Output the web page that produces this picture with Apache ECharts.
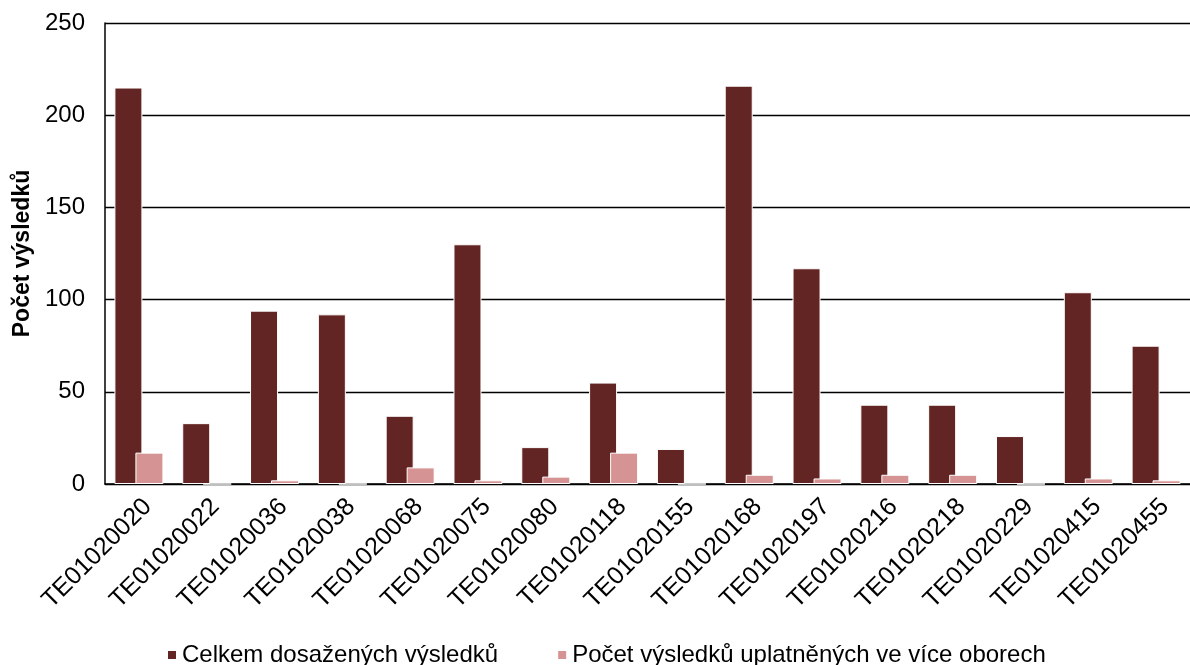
<!DOCTYPE html>
<html>
<head>
<meta charset="utf-8">
<script src="https://cdn.jsdelivr.net/npm/echarts@6/dist/echarts.min.js"></script>
<style>
  html, body { margin: 0; padding: 0; background: #fff; }
  #chart { width: 1190px; height: 665px; }
</style>
</head>
<body>
<div id="chart"></div>
<script>
// Projects (categories on the x axis)
const projects = [
  'TE01020020', 'TE01020022', 'TE01020036', 'TE01020038', 'TE01020068',
  'TE01020075', 'TE01020080', 'TE01020118', 'TE01020155', 'TE01020168',
  'TE01020197', 'TE01020216', 'TE01020218', 'TE01020229', 'TE01020415',
  'TE01020455'
];

// Total results achieved per project
const totalResults = [215, 33, 94, 92, 37, 130, 20, 55, 19, 216, 117, 43, 43, 26, 104, 75];

// Results applied in more than one field
const multiFieldResults = [17, 0, 2, 0, 9, 2, 4, 17, 0, 5, 3, 5, 5, 0, 3, 2];

const seriesNames = ['Celkem dosažených výsledků', 'Počet výsledků uplatněných ve více oborech'];
const yAxisTitle = 'Počet výsledků';

const FONT = 'Liberation Sans, Arial, sans-serif';

const chart = echarts.init(document.getElementById('chart'), null, { renderer: 'canvas' });

chart.setOption({
  animation: false,
  backgroundColor: '#ffffff',
  textStyle: { fontFamily: FONT },
  grid: { left: 105, right: -11, top: 23, bottom: 181, containLabel: false },
  legend: {
    left: 161,
    top: 638,
    itemWidth: 10,
    itemHeight: 10,
    itemGap: 58,
    icon: 'rect',
    textStyle: { fontFamily: FONT, fontSize: 24, color: '#000' },
    data: seriesNames
  },
  xAxis: {
    type: 'category',
    data: projects,
    boundaryGap: true,
    axisLine: { show: true, lineStyle: { color: '#000', width: 1.5 } },
    axisTick: { show: false },
    axisLabel: {
      interval: 0,
      rotate: 45,
      margin: 10,
      verticalAlign: 'top',
      fontFamily: FONT,
      fontSize: 25,
      color: '#000'
    },
    splitLine: { show: false }
  },
  yAxis: {
    type: 'value',
    min: 0,
    max: 250,
    interval: 50,
    name: yAxisTitle,
    nameLocation: 'middle',
    nameGap: 70,
    nameRotate: 90,
    nameTextStyle: { fontFamily: FONT, fontSize: 23, fontWeight: 'bold', color: '#000' },
    axisLine: { show: true, lineStyle: { color: '#000', width: 1.5 } },
    axisTick: { show: false },
    axisLabel: { fontFamily: FONT, fontSize: 24, color: '#000', margin: 20 },
    splitLine: { show: true, lineStyle: { color: '#000', width: 1.4 } }
  },
  series: [
    {
      name: seriesNames[0],
      type: 'bar',
      data: totalResults,
      barWidth: 28,
      barGap: '-25%',
      itemStyle: { color: '#632523', borderColor: '#ffffff', borderWidth: 1 }
    },
    {
      name: seriesNames[1],
      type: 'bar',
      data: multiFieldResults,
      barWidth: 28,
      barGap: '-25%',
      itemStyle: { color: '#D59493', borderColor: '#ffffff', borderWidth: 1 }
    }
  ]
});
</script>
</body>
</html>
